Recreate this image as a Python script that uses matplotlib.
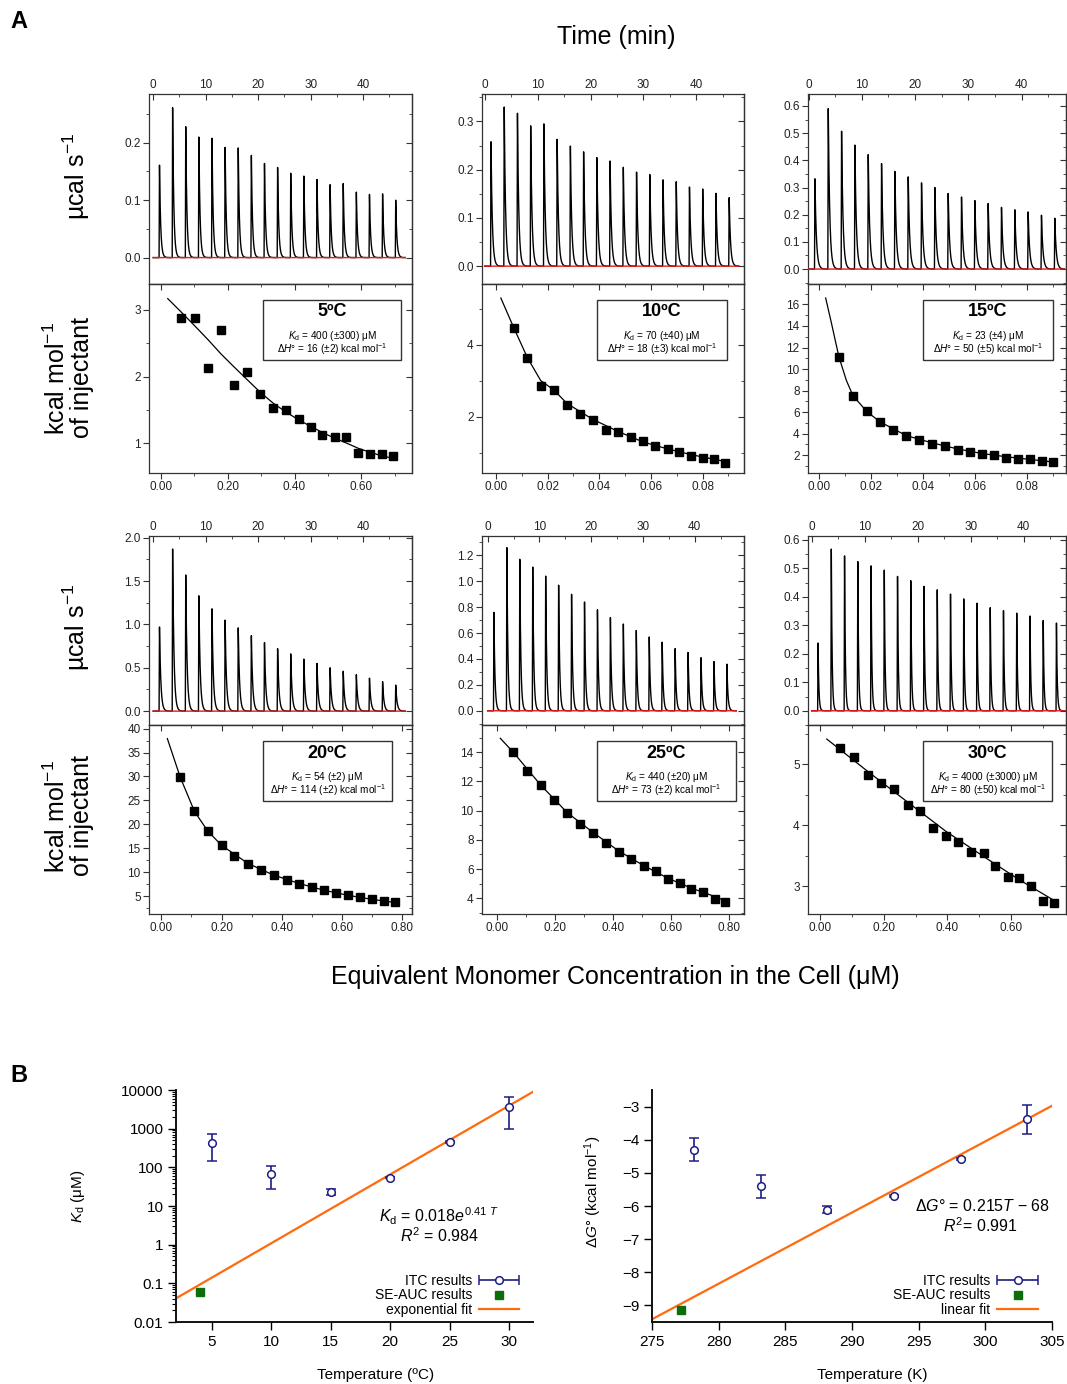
import numpy as np
import matplotlib
matplotlib.use("Agg")
import matplotlib.pyplot as plt
from matplotlib.patches import Rectangle
from matplotlib.lines import Line2D
from matplotlib.ticker import MultipleLocator, LogLocator, FixedLocator, NullFormatter, FormatStrFormatter
from matplotlib.legend_handler import HandlerErrorbar
from matplotlib.container import ErrorbarContainer

plt.rcParams['font.family'] = ['Liberation Sans', 'DejaVu Sans']
plt.rcParams['mathtext.fontset'] = 'custom'
plt.rcParams['mathtext.rm'] = 'Liberation Sans'
plt.rcParams['mathtext.it'] = 'Liberation Sans:italic'
plt.rcParams['mathtext.bf'] = 'Liberation Sans:bold'
plt.rcParams['axes.unicode_minus'] = True

W, H = 1067, 1384

# ---------------- data: panel A ----------------
temp_labels = ['5ºC', '10ºC', '15ºC', '20ºC', '25ºC', '30ºC']
kd_labels = ['400 (±300)', '70 (±40)', '23 (±4)', '54 (±2)', '440 (±20)', '4000 (±3000)']
dh_labels = ['16 (±2)', '18 (±3)', '50 (±5)', '114 (±2)', '73 (±2)', '80 (±50)']

# injection times (min)
inj_times = [1.2, 3.7, 6.2, 8.7, 11.2, 13.7, 16.2, 18.7, 21.2, 23.7,
             26.2, 28.7, 31.2, 33.7, 36.2, 38.7, 41.2, 43.7, 46.2]

# peak heights of the raw thermograms (ucal/s)
peaks_5 = [0.161, 0.261, 0.228, 0.210, 0.208, 0.192, 0.191, 0.178, 0.164, 0.157,
           0.147, 0.142, 0.136, 0.127, 0.129, 0.114, 0.110, 0.111, 0.100]
peaks_10 = [0.258, 0.330, 0.317, 0.291, 0.295, 0.263, 0.249, 0.237, 0.225, 0.218,
            0.205, 0.195, 0.190, 0.179, 0.175, 0.164, 0.160, 0.151, 0.142]
peaks_15 = [0.332, 0.590, 0.507, 0.456, 0.421, 0.388, 0.359, 0.339, 0.317, 0.300,
            0.278, 0.265, 0.252, 0.241, 0.227, 0.218, 0.210, 0.198, 0.187]
peaks_20 = [0.97, 1.87, 1.57, 1.33, 1.18, 1.05, 0.96, 0.87, 0.79, 0.72,
            0.66, 0.60, 0.55, 0.50, 0.46, 0.42, 0.38, 0.34, 0.30]
peaks_25 = [0.76, 1.26, 1.17, 1.11, 1.04, 0.97, 0.90, 0.84, 0.78, 0.72,
            0.67, 0.62, 0.57, 0.53, 0.48, 0.45, 0.41, 0.38, 0.36]
peaks_30 = [0.238, 0.568, 0.544, 0.524, 0.509, 0.494, 0.472, 0.457, 0.437, 0.425,
            0.410, 0.393, 0.378, 0.362, 0.352, 0.343, 0.333, 0.317, 0.308]
thermo_peaks = [peaks_5, peaks_10, peaks_15, peaks_20, peaks_25, peaks_30]

# integrated heats (kcal/mol of injectant) vs concentration (uM)
iso_x_5 = [0.060, 0.102, 0.142, 0.180, 0.220, 0.259, 0.298, 0.336, 0.373, 0.412,
           0.448, 0.483, 0.521, 0.555, 0.591, 0.626, 0.660, 0.694]
iso_y_5 = [2.88, 2.88, 2.13, 2.70, 1.87, 2.07, 1.74, 1.53, 1.50, 1.36,
           1.24, 1.12, 1.09, 1.09, 0.85, 0.84, 0.84, 0.80]
iso_x_10 = [0.0068, 0.0122, 0.0173, 0.0225, 0.0275, 0.0325, 0.0375, 0.0425, 0.0474, 0.0522,
            0.0570, 0.0617, 0.0664, 0.0710, 0.0755, 0.0800, 0.0845, 0.0887]
iso_y_10 = [4.47, 3.64, 2.85, 2.74, 2.34, 2.07, 1.91, 1.63, 1.57, 1.43,
            1.32, 1.20, 1.12, 1.02, 0.91, 0.87, 0.82, 0.73]
iso_x_15 = [0.0077, 0.0131, 0.0184, 0.0235, 0.0286, 0.0336, 0.0387, 0.0436, 0.0484, 0.0534,
            0.0581, 0.0628, 0.0675, 0.0722, 0.0768, 0.0814, 0.0858, 0.0903]
iso_y_15 = [11.14, 7.54, 6.06, 5.05, 4.31, 3.82, 3.42, 3.02, 2.89, 2.49,
            2.28, 2.06, 2.00, 1.69, 1.63, 1.60, 1.42, 1.36]
iso_x_20 = [0.063, 0.110, 0.154, 0.200, 0.243, 0.288, 0.331, 0.373, 0.416, 0.459,
            0.500, 0.541, 0.581, 0.621, 0.661, 0.700, 0.739, 0.776]
iso_y_20 = [29.8, 22.7, 18.6, 15.6, 13.35, 11.7, 10.4, 9.38, 8.34, 7.44,
            6.81, 6.18, 5.63, 5.14, 4.72, 4.37, 3.96, 3.68]
iso_x_25 = [0.057, 0.105, 0.151, 0.197, 0.243, 0.287, 0.333, 0.376, 0.420, 0.463,
            0.507, 0.548, 0.590, 0.631, 0.671, 0.711, 0.751, 0.788]
iso_y_25 = [14.0, 12.74, 11.76, 10.73, 9.82, 9.11, 8.49, 7.77, 7.17, 6.71,
            6.23, 5.87, 5.30, 5.03, 4.64, 4.43, 3.98, 3.75]
iso_x_30 = [0.064, 0.107, 0.150, 0.192, 0.233, 0.275, 0.315, 0.356, 0.396, 0.435,
            0.475, 0.514, 0.551, 0.590, 0.626, 0.663, 0.701, 0.736]
iso_y_30 = [5.27, 5.11, 4.83, 4.69, 4.60, 4.33, 4.24, 3.95, 3.83, 3.73,
            3.57, 3.55, 3.34, 3.16, 3.14, 3.00, 2.77, 2.73]
iso_x = [iso_x_5, iso_x_10, iso_x_15, iso_x_20, iso_x_25, iso_x_30]
iso_y = [iso_y_5, iso_y_10, iso_y_15, iso_y_20, iso_y_25, iso_y_30]

# fitted binding curves
fit_x_5 = [0.021, 0.057, 0.102, 0.142, 0.180, 0.220, 0.259, 0.298, 0.336, 0.373, 0.412,
           0.448, 0.483, 0.521, 0.555, 0.591, 0.626, 0.660, 0.694]
fit_y_5 = [3.17, 2.99, 2.76, 2.55, 2.34, 2.14, 1.95, 1.76, 1.60, 1.47, 1.35,
           1.25, 1.16, 1.07, 1.00, 0.92, 0.86, 0.81, 0.77]
fit_x_10 = [0.0019, 0.0068, 0.0122, 0.0173, 0.0225, 0.0275, 0.0375, 0.0474, 0.0570, 0.0664, 0.0755, 0.0887]
fit_y_10 = [5.30, 4.49, 3.64, 3.01, 2.74, 2.37, 1.93, 1.59, 1.30, 1.11, 0.95, 0.76]
fit_x_15 = [0.0026, 0.0048, 0.0077, 0.0106, 0.0131, 0.0184, 0.0235, 0.0336, 0.0436, 0.0534, 0.0628, 0.0722, 0.0814, 0.0903]
fit_y_15 = [16.6, 14.3, 11.14, 8.93, 7.54, 6.06, 5.10, 3.82, 3.14, 2.58, 2.15, 1.85, 1.60, 1.36]
fit_x_20 = [0.020, 0.063, 0.110, 0.154, 0.200, 0.288, 0.373, 0.459, 0.541, 0.621, 0.700, 0.776]
fit_y_20 = [37.9, 29.8, 22.7, 18.6, 15.6, 11.8, 9.38, 7.6, 6.2, 5.14, 4.3, 3.65]
fit_x_25 = [0.012, 0.057, 0.151, 0.243, 0.333, 0.420, 0.507, 0.590, 0.671, 0.751, 0.788]
fit_y_25 = [14.96, 14.0, 11.76, 9.86, 8.49, 7.24, 6.23, 5.37, 4.69, 4.12, 3.82]
fit_x_30 = [0.021, 0.150, 0.275, 0.396, 0.514, 0.626, 0.736]
fit_y_30 = [5.41, 4.88, 4.38, 3.90, 3.49, 3.11, 2.77]
fit_x = [fit_x_5, fit_x_10, fit_x_15, fit_x_20, fit_x_25, fit_x_30]
fit_y = [fit_y_5, fit_y_10, fit_y_15, fit_y_20, fit_y_25, fit_y_30]

# ---------------- data: panel B ----------------
itc_temp_c = [5, 10, 15, 20, 25, 30]
itc_kd = [430, 67, 23, 54, 450, 3700]
itc_kd_err = [280, 40, 4, 2, 20, 2700]
auc_temp_c = [4]
auc_kd = [0.060]
exp_fit_a, exp_fit_b = 0.018, 0.41

itc_temp_k = [278.15, 283.15, 288.15, 293.15, 298.15, 303.15]
itc_dg = [-4.30, -5.41, -6.11, -5.71, -4.57, -3.39]
itc_dg_err = [0.35, 0.34, 0.10, 0.03, 0.03, 0.43]
auc_temp_k = [277.15]
auc_dg = [-9.13]
lin_fit_slope, lin_fit_icept = 0.2147, -68.46

# ---------------- layout ----------------
col_px = [(149, 412), (482, 744), (808, 1066)]
row_px = [(94, 284, 473), (536, 725, 914)]
thermo_xlim = [(-0.8, 49.3), (-0.5, 49.0), (-0.1, 48.3), (-0.8, 49.3), (-1.1, 49.5), (-0.7, 48.0)]
thermo_ylim = [(-0.046, 0.285), (-0.037, 0.357), (-0.055, 0.644), (-0.16, 2.02), (-0.11, 1.35), (-0.05, 0.614)]
thermo_ystep = [0.1, 0.1, 0.1, 0.5, 0.2, 0.1]
thermo_tau = [0.22, 0.25, 0.27, 0.25, 0.2, 0.15]
iso_xlim = [(-0.035, 0.751), (-0.0054, 0.096), (-0.0042, 0.0952), (-0.041, 0.833), (-0.051, 0.852), (-0.038, 0.773)]
iso_ylim = [(0.55, 3.39), (0.44, 5.69), (0.34, 17.9), (1.24, 40.75), (2.92, 15.87), (2.55, 5.64)]
iso_xstep = [0.2, 0.02, 0.02, 0.2, 0.2, 0.2]
iso_ystep = [1, 2, 2, 5, 2, 1]
box_left = [263, 597, 923, 263, 597, 923]
box_width = [138, 130, 130, 129, 139, 129]

spine_col = '#333333'


def box(left, top, right, bottom):
    return [left / W, 1 - bottom / H, (right - left) / W, (bottom - top) / H]


def fx(x):
    return x / W


def fy(y):
    return 1 - y / H


def style_spines(ax):
    for s in ax.spines.values():
        s.set_linewidth(0.9)
        s.set_color(spine_col)


def inner_ticks(ax, side, major, minor):
    if side in ('top', 'bottom'):
        sec = ax.secondary_xaxis(side)
        sec.xaxis.set_major_locator(MultipleLocator(major))
        sec.xaxis.set_minor_locator(MultipleLocator(minor))
        sec.tick_params(axis='x', which='both', direction='in', labeltop=False,
                        labelbottom=False, color=spine_col)
    else:
        sec = ax.secondary_yaxis(side)
        sec.yaxis.set_major_locator(MultipleLocator(major))
        sec.yaxis.set_minor_locator(MultipleLocator(minor))
        sec.tick_params(axis='y', which='both', direction='in', labelleft=False,
                        labelright=False, color=spine_col)
    sec.tick_params(which='major', length=4)
    sec.tick_params(which='minor', length=2)
    style_spines(sec)


fig = plt.figure(figsize=(W / 100, H / 100), dpi=100)

t = np.linspace(0, 48, 9601)

for i in range(6):
    r, c = divmod(i, 3)
    left, right = col_px[c]
    top, mid, bottom = row_px[r]

    # raw thermogram
    axt = fig.add_axes(box(left, top, right, mid))
    trace = np.zeros_like(t)
    for t0, h in zip(inj_times, thermo_peaks[i]):
        rise = (t >= t0 - 0.08) & (t < t0)
        trace[rise] += h * (t[rise] - (t0 - 0.08)) / 0.08
        dec = t >= t0
        trace[dec] += h * np.exp(-(t[dec] - t0) / thermo_tau[i])
    axt.plot(t, trace, color='black', lw=1.0)
    axt.plot(t, np.zeros_like(t), color='#e31a1a', lw=1.0, zorder=3)
    axt.set_xlim(*thermo_xlim[i])
    axt.set_ylim(*thermo_ylim[i])
    axt.xaxis.set_major_locator(MultipleLocator(10))
    axt.xaxis.set_minor_locator(MultipleLocator(5))
    axt.yaxis.set_major_locator(MultipleLocator(thermo_ystep[i]))
    axt.yaxis.set_minor_locator(MultipleLocator(thermo_ystep[i] / 2))
    axt.yaxis.set_major_formatter(FormatStrFormatter('%.1f'))
    axt.tick_params(axis='x', which='both', top=True, bottom=False, labeltop=True,
                    labelbottom=False, direction='in', pad=2)
    axt.tick_params(axis='y', which='both', left=True, right=False, direction='out', pad=2)
    axt.tick_params(which='major', length=4, labelsize=8.5, color=spine_col, labelcolor='#222222')
    axt.tick_params(which='minor', length=2, color=spine_col)
    style_spines(axt)
    inner_ticks(axt, 'right', thermo_ystep[i], thermo_ystep[i] / 2)

    # integrated isotherm
    axi = fig.add_axes(box(left, mid, right, bottom))
    axi.plot(fit_x[i], fit_y[i], color='black', lw=0.9)
    axi.plot(iso_x[i], iso_y[i], ls='none', marker='s', ms=5.2, color='black')
    axi.set_xlim(*iso_xlim[i])
    axi.set_ylim(*iso_ylim[i])
    axi.xaxis.set_major_locator(MultipleLocator(iso_xstep[i]))
    axi.xaxis.set_minor_locator(MultipleLocator(iso_xstep[i] / 2))
    axi.yaxis.set_major_locator(MultipleLocator(iso_ystep[i]))
    axi.yaxis.set_minor_locator(MultipleLocator(iso_ystep[i] / 2))
    axi.xaxis.set_major_formatter(FormatStrFormatter('%.2f'))
    axi.yaxis.set_major_formatter(FormatStrFormatter('%d'))
    axi.tick_params(which='both', direction='out', top=False, right=False, pad=2)
    axi.tick_params(which='major', length=4, labelsize=8.5, color=spine_col, labelcolor='#222222')
    axi.tick_params(which='minor', length=2, color=spine_col)
    style_spines(axi)
    inner_ticks(axi, 'top', iso_xstep[i], iso_xstep[i] / 2)
    inner_ticks(axi, 'right', iso_ystep[i], iso_ystep[i] / 2)

    # parameter box
    bl, bw, bt = box_left[i], box_width[i], mid + 16
    fig.add_artist(Rectangle((fx(bl), fy(bt + 60)), bw / W, 60 / H,
                             transform=fig.transFigure, facecolor='white',
                             edgecolor='#333333', lw=1.0, zorder=5))
    cx = fx(bl + bw / 2)
    fig.text(cx, fy(bt + 12), temp_labels[i], ha='center', va='center',
             fontsize=13, fontweight='bold', zorder=6)
    fig.text(cx, fy(bt + 36), r'$K_\mathrm{d}$ = ' + kd_labels[i] + ' μM',
             ha='center', va='center', fontsize=7.2, zorder=6)
    fig.text(cx, fy(bt + 49.5), r'Δ$H$° = ' + dh_labels[i] + r' kcal mol$^{-1}$',
             ha='center', va='center', fontsize=7.2, zorder=6)

# panel A labels
fig.text(fx(10), fy(22), 'A', fontsize=17, fontweight='bold', va='center', ha='left')
fig.text(fx(616), fy(37), 'Time (min)', fontsize=18, ha='center', va='center')
fig.text(fx(615), fy(977), 'Equivalent Monomer Concentration in the Cell (μM)',
         fontsize=18, ha='center', va='center')
for yc_th, yc_iso in [(176, 378), (627, 816)]:
    fig.text(fx(76), fy(yc_th), r'µcal s$^{-1}$', fontsize=18, rotation=90,
             ha='center', va='center')
    fig.text(fx(69), fy(yc_iso), 'kcal mol$^{-1}$\nof injectant', fontsize=18,
             rotation=90, ha='center', va='center', multialignment='center',
             linespacing=1.0)

# ---------------- panel B ----------------
navy = '#1e1e82'
green = '#0b6e0b'
orange = '#ff6a0d'

fig.text(fx(10), fy(1075), 'B', fontsize=17, fontweight='bold', va='center', ha='left')


def style_b(ax):
    ax.spines['top'].set_visible(False)
    ax.spines['right'].set_visible(False)
    for s in ('left', 'bottom'):
        ax.spines[s].set_linewidth(1.4)
        ax.spines[s].set_color('#111111')
    ax.tick_params(which='major', direction='out', length=6, width=1.0, labelsize=11, pad=3)
    ax.tick_params(which='minor', direction='out', length=3, width=0.8)


# Kd vs temperature
axb1 = fig.add_axes(box(176, 1090, 533, 1322))
tt = np.linspace(2, 32, 200)
axb1.plot(tt, exp_fit_a * np.exp(exp_fit_b * tt), color=orange, lw=1.6, zorder=2)
axb1.errorbar(itc_temp_c, itc_kd, yerr=itc_kd_err, fmt='o', ms=5.5, mfc='white',
              mec=navy, mew=1.1, ecolor=navy, elinewidth=1.2, capsize=3.5, capthick=1.2, zorder=3)
axb1.plot(auc_temp_c, auc_kd, ls='none', marker='s', ms=6, color=green, zorder=3)
axb1.set_yscale('log')
axb1.set_xlim(2, 32)
axb1.set_ylim(0.01, 10000)
axb1.xaxis.set_major_locator(FixedLocator([5, 10, 15, 20, 25, 30]))
axb1.yaxis.set_major_locator(FixedLocator([0.01, 0.1, 1, 10, 100, 1000, 10000]))
axb1.set_yticklabels(['0.01', '0.1', '1', '10', '100', '1000', '10000'])
axb1.yaxis.set_minor_locator(LogLocator(base=10, subs=np.arange(2, 10), numticks=20))
axb1.yaxis.set_minor_formatter(NullFormatter())
style_b(axb1)
axb1.set_xlabel('Temperature (ºC)', fontsize=11)
axb1.xaxis.set_label_coords(0.56, -0.198)
axb1.set_ylabel(r'$K_\mathrm{d}$ (μM)', fontsize=11)
axb1.yaxis.set_label_coords(-0.249, 0.54)
fig.text(fx(439), fy(1216), r'$K_\mathrm{d}$ = 0.018$e^{0.41\ T}$', fontsize=11.5,
         ha='center', va='center')
fig.text(fx(440), fy(1236), r'$R^2$ = 0.984', fontsize=11.5, ha='center', va='center')

# dG vs temperature
axb2 = fig.add_axes(box(652, 1090, 1052, 1322))
tk = np.linspace(275, 305, 200)
axb2.plot(tk, lin_fit_slope * tk + lin_fit_icept, color=orange, lw=1.6, zorder=2)
axb2.errorbar(itc_temp_k, itc_dg, yerr=itc_dg_err, fmt='o', ms=5.5, mfc='white',
              mec=navy, mew=1.1, ecolor=navy, elinewidth=1.2, capsize=3.5, capthick=1.2, zorder=3)
axb2.plot(auc_temp_k, auc_dg, ls='none', marker='s', ms=6, color=green, zorder=3)
axb2.set_xlim(275, 305)
axb2.set_ylim(-9.5, -2.5)
axb2.xaxis.set_major_locator(MultipleLocator(5))
axb2.yaxis.set_major_locator(MultipleLocator(1))
style_b(axb2)
axb2.set_xlabel('Temperature (K)', fontsize=11)
axb2.xaxis.set_label_coords(0.55, -0.198)
axb2.set_ylabel(r'Δ$G$° (kcal mol$^{-1}$)', fontsize=11)
axb2.yaxis.set_label_coords(-0.12, 0.56)
fig.text(fx(982), fy(1206), r'Δ$G$° = 0.215$T$ − 68', fontsize=11.5, ha='center', va='center')
fig.text(fx(980), fy(1226), r'$R^2$= 0.991', fontsize=11.5, ha='center', va='center')

# legends
for ax, fit_label in [(axb1, 'exponential fit'), (axb2, 'linear fit')]:
    proxy = ax.errorbar([np.nan], [np.nan], xerr=[1.0], fmt='o', ms=5.5, mfc='white',
                        mec=navy, mew=1.1, ecolor=navy, elinewidth=1.2,
                        capsize=3.5, capthick=1.2)
    sq = Line2D([], [], ls='none', marker='s', ms=6, color=green)
    ln = Line2D([], [], color=orange, lw=1.6)
    ax.legend([proxy, sq, ln], ['ITC results', 'SE-AUC results', fit_label],
              loc='lower right', bbox_to_anchor=(0.985, -0.015), frameon=False,
              markerfirst=False, fontsize=10, handlelength=2.9, handletextpad=0.5,
              labelspacing=0.05, borderaxespad=0.2,
              handler_map={ErrorbarContainer: HandlerErrorbar(xerr_size=1.45)})

fig.savefig('out.png', dpi=100)
